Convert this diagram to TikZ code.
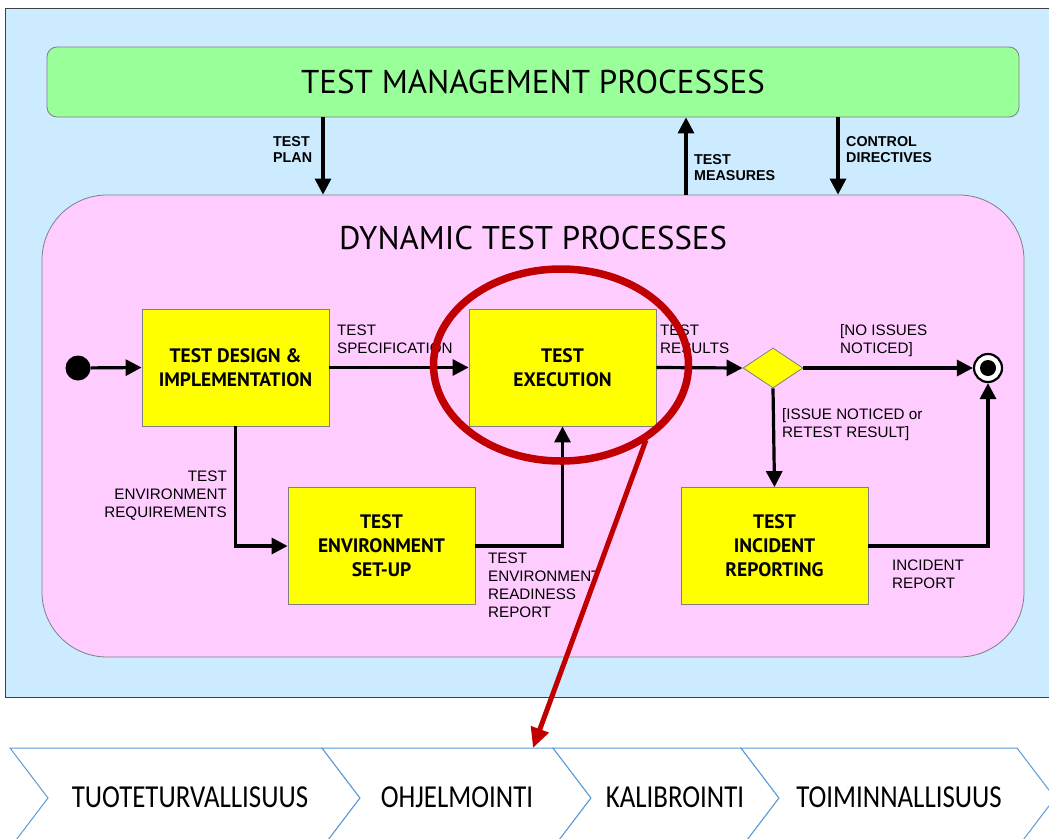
\documentclass[tikz,border=0pt]{standalone}
\usepackage{fontspec}
\setmainfont{Liberation Sans}
\newfontfamily\ptsans{PT Sans}
\newfontfamily\carl{Carlito}
\usetikzlibrary{arrows.meta,shapes.geometric}
\definecolor{bgblue}{HTML}{CCEBFF}
\definecolor{mgreen}{HTML}{99FF99}
\definecolor{dpink}{HTML}{FFCCFF}
\definecolor{boxyel}{HTML}{FFFF00}
\definecolor{redmark}{HTML}{C00000}
\definecolor{chevblue}{HTML}{5B9BD5}
\definecolor{edgegray}{HTML}{7F7F7F}
\tikzset{
  procbox/.style={draw=edgegray, fill=boxyel, line width=0.8pt, minimum width=187pt, minimum height=117pt, inner sep=0pt, align=center, font=\ptsans\bfseries\fontsize{19.5}{24}\selectfont},
  flow/.style={line width=3.2pt, -{Triangle[length=16pt,width=16pt]}},
  lbl/.style={inner sep=0pt, align=left, font=\fontsize{15.2}{18}\selectfont},
  blbl/.style={inner sep=0pt, align=left, font=\bfseries\fontsize{14.3}{16.5}\selectfont},
  chev/.style={draw=chevblue, fill=white, line width=1pt},
  chevtxt/.style={font=\carl\fontsize{32}{36}\selectfont, xscale=0.84},
}
\begin{document}
\begin{tikzpicture}[x=1pt,y=-1pt]
\useasboundingbox (0,0) rectangle (1049,838);
\fill[white] (0,0) rectangle (1049,838);
% blue background
\draw[fill=bgblue, draw=black!75, line width=1pt] (5,8) rectangle (1060,697);
% management box
\node[draw=edgegray, fill=mgreen, rounded corners=10pt, minimum width=972pt, minimum height=70pt, inner sep=0pt, line width=0.8pt, font=\ptsans\fontsize{33}{38}\selectfont] (mgmt) at (533,82) {TEST MANAGEMENT PROCESSES};
% dynamic box
\node[draw=edgegray, fill=dpink, rounded corners=65pt, minimum width=982pt, minimum height=462pt, inner sep=0pt, line width=0.8pt] (dyn) at (533,426) {};
\node[inner sep=0pt, font=\ptsans\fontsize{32.8}{38}\selectfont] (dyntitle) at (533,238) {DYNAMIC TEST PROCESSES};
% vertical connectors
\coordinate (xplan) at (323,0);
\coordinate (xmeas) at (686,0);
\coordinate (xctrl) at (838,0);
\draw[flow] (mgmt.south -| xplan) -- (dyn.north -| xplan);
\draw[flow] (dyn.north -| xmeas) -- (mgmt.south -| xmeas);
\draw[flow] (mgmt.south -| xctrl) -- (dyn.north -| xctrl);
\node[blbl, anchor=north west] (lplan) at (273,136) {TEST\\PLAN};
\node[blbl, anchor=north west] (lmeas) at (694,154) {TEST\\MEASURES};
\node[blbl, anchor=north west] (lctrl) at (846,136) {CONTROL\\DIRECTIVES};
% nodes
\node[circle, fill=black, minimum size=25pt, inner sep=0pt] (start) at (78,368) {};
\node[procbox] (design) at (235.5,367.5) {TEST DESIGN \&\\IMPLEMENTATION};
\node[procbox] (exec) at (562.5,367.5) {TEST\\EXECUTION};
\node[procbox] (env) at (381.5,546) {TEST\\ENVIRONMENT\\SET-UP};
\node[procbox] (inc) at (774.5,546) {TEST\\INCIDENT\\REPORTING};
\node[diamond, draw=edgegray, fill=boxyel, line width=0.8pt, minimum width=60pt, minimum height=40pt, inner sep=0pt] (dia) at (773,368) {};
\node[circle, draw=black, fill=white, line width=2.2pt, minimum size=28pt, inner sep=0pt] (stop) at (988,368) {};
\node[circle, fill=black, minimum size=16pt, inner sep=0pt] (stopdot) at (stop.center) {};
% flow connectors
\draw[flow] (start) -- (design.west);
\draw[flow] (design.east) -- (exec.west);
\draw[flow] (design.south) |- (env.west);
\draw[flow] (env.east) -| (exec.south);
\draw[flow] (exec.east) -- (dia.west);
\draw[flow] (dia.east) -- (stop.west);
\draw[flow] (dia.south) -- (inc.north);
\draw[flow] (inc.east) -| (stop.south);
% labels
\node[lbl, anchor=north west] (lspec) at (337,325) {TEST\\SPECIFICATION};
\node[lbl, anchor=north west] (lres) at (660,325) {TEST\\RESULTS};
\node[lbl, anchor=north west] (lno) at (840,324) {[NO ISSUES\\NOTICED]};
\node[lbl, anchor=north west] (liss) at (782,408) {[ISSUE NOTICED or\\RETEST RESULT]};
\node[lbl, anchor=north east, align=right] (lreq) at (227,471) {TEST\\ENVIRONMENT\\REQUIREMENTS};
\node[lbl, anchor=north west] (lready) at (488,553) {TEST\\ENVIRONMENT\\READINESS\\REPORT};
\node[lbl, anchor=north west] (lincr) at (892,560) {INCIDENT\\REPORT};
% chevrons
\foreach \a/\b in {10/322, 322/553, 553/741, 741/1017} {
  \draw[chev] (\a,748) -- (\b,748) -- (\b+38,798) -- (\b,848) -- (\a,848) -- (\a+38,798) -- cycle;
}
\node[chevtxt] (c1) at (190,797) {TUOTETURVALLISUUS};
\node[chevtxt] (c2) at (457,797) {OHJELMOINTI};
\node[chevtxt] (c3) at (675,797) {KALIBROINTI};
\node[chevtxt] (c4) at (899,797) {TOIMINNALLISUUS};
% red highlight
\node[ellipse, draw=redmark, line width=7.5pt, minimum width=255pt, minimum height=192pt, inner sep=0pt] (ring) at (561,365) {};
\coordinate (redstart) at (646,440);
\coordinate (redtip) at (533,748);
\draw[draw=redmark, line width=5pt, -{Triangle[length=20pt,width=18pt]}] (redstart) -- (redtip);
\end{tikzpicture}
\end{document}
